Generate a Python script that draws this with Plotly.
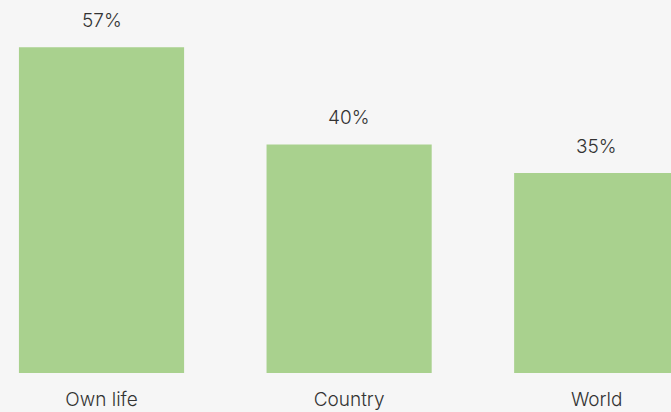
import plotly.graph_objects as go

categories = ["Own life", "Country", "World"]
values = [57, 40, 35]
labels = ["57%", "40%", "35%"]

FONT = "Inter"

fig = go.Figure()
fig.add_trace(go.Bar(
    x=list(range(len(categories))), y=values,
    marker=dict(color="#a9d18e", line=dict(width=0)),
    width=0.667,
    hoverinfo="skip",
))
for i, (v, t) in enumerate(zip(values, labels)):
    fig.add_annotation(x=i, y=v, text=t, showarrow=False, yanchor="bottom",
                       yshift=13, font=dict(size=19, color="#333333",
                                            family=FONT, weight=300))

fig.update_layout(
    width=671, height=412,
    margin=dict(l=0, r=0, t=0, b=39),
    paper_bgcolor="#f6f6f6", plot_bgcolor="#f6f6f6",
    showlegend=False,
    font=dict(family=FONT, size=19, color="#333333", weight=300),
    xaxis=dict(range=[-0.41, 2.30], tickmode="array",
               tickvals=list(range(len(categories))), ticktext=categories,
               showgrid=False, zeroline=False, showline=False,
               ticklabelstandoff=13, fixedrange=True),
    yaxis=dict(range=[0, 65.28], visible=False, fixedrange=True),
)
fig.write_html("out.html", config={"displayModeBar": False},
               post_script="document.body.style.margin='0';document.body.style.background='#f6f6f6';")
